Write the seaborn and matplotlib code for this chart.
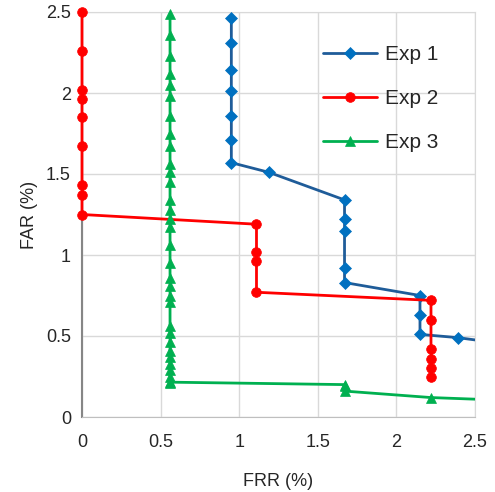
import matplotlib
matplotlib.use("Agg")
import matplotlib.pyplot as plt
from matplotlib.patches import Rectangle
import seaborn as sns
import pandas as pd

# Exp 1 (blue diamonds)
exp1_frr = [0.95, 0.95, 0.95, 0.95, 0.95, 0.95, 0.95, 1.19, 1.67, 1.67, 1.67, 1.67, 1.67, 2.15, 2.15, 2.15, 2.39, 2.70]
exp1_far = [2.46, 2.31, 2.14, 2.01, 1.86, 1.71, 1.57, 1.51, 1.34, 1.22, 1.15, 0.92, 0.83, 0.75, 0.63, 0.51, 0.49, 0.45]
# Exp 2 (red circles)
exp2_frr = [0.0, 0.0, 0.0, 0.0, 0.0, 0.0, 0.0, 0.0, 0.0, 1.11, 1.11, 1.11, 1.11, 2.22, 2.22, 2.22, 2.22, 2.22, 2.22]
exp2_far = [2.50, 2.26, 2.02, 1.96, 1.85, 1.67, 1.43, 1.37, 1.25, 1.19, 1.02, 0.96, 0.77, 0.72, 0.60, 0.42, 0.36, 0.30, 0.25]
# Exp 3 (green triangles)
exp3_frr = [0.56] * 32 + [1.67, 1.67, 1.67, 2.22, 2.78]
exp3_far = [2.49, 2.36, 2.23, 2.12, 2.05, 1.98, 1.86, 1.75, 1.67, 1.56, 1.51, 1.45,
            1.34, 1.28, 1.22, 1.17, 1.06, 0.95, 0.86, 0.81, 0.75, 0.71, 0.56, 0.52,
            0.46, 0.41, 0.37, 0.33, 0.29, 0.25, 0.21, 0.215,
            0.20, 0.19, 0.16, 0.12, 0.10]

series_names = ["Exp 1", "Exp 2", "Exp 3"]
x_ticks = [0, 0.5, 1, 1.5, 2, 2.5]
y_ticks = [0, 0.5, 1, 1.5, 2, 2.5]

sns.set_style("white")
plt.rcParams['font.family'] = ['Liberation Sans', 'DejaVu Sans']

fig = plt.figure(figsize=(4.95, 4.92), dpi=100)
ax = fig.add_axes([82/495, 75/492, 393/495, 405/492])

styles = [
    dict(line="#1F5C99", mk="#0070C0", marker="D", ms=6.5),
    dict(line="#FF0000", mk="#FF0000", marker="o", ms=7),
    dict(line="#00B050", mk="#00B050", marker="^", ms=7.5),
]
data = [(exp1_frr, exp1_far), (exp2_frr, exp2_far), (exp3_frr, exp3_far)]

for name, (xs, ys), st in zip(series_names, data, styles):
    df = pd.DataFrame({"FRR": xs, "FAR": ys})
    sns.lineplot(data=df, x="FRR", y="FAR", sort=False, estimator=None, ax=ax,
                 color=st["line"], linewidth=2, marker=st["marker"], markersize=st["ms"],
                 markerfacecolor=st["mk"], markeredgecolor=st["mk"], markeredgewidth=0.5,
                 label=name, zorder=3)

clip_rect = Rectangle((-0.05, -0.05), 1.05, 1.1, transform=ax.transAxes,
                      facecolor="none", edgecolor="none")
ax.add_patch(clip_rect)
for ln in ax.get_lines():
    ln.set_clip_path(clip_rect)

ax.set_xlim(0, 2.5)
ax.set_ylim(0, 2.5)
ax.set_xticks(x_ticks)
ax.set_yticks(y_ticks)
ax.set_xticklabels([f"{t:g}" for t in x_ticks], fontsize=13)
ax.set_yticklabels([f"{t:g}" for t in y_ticks], fontsize=13)
ax.grid(True, color="#D9D9D9", linewidth=1)
ax.set_axisbelow(True)
for s in ["top", "right"]:
    ax.spines[s].set_color("#D9D9D9")
ax.spines["left"].set_color("#868686")
ax.spines["left"].set_linewidth(1.5)
ax.spines["bottom"].set_color("#BFBFBF")
ax.tick_params(axis="both", length=3, color="#868686")
ax.tick_params(axis="y", pad=5)
ax.tick_params(axis="x", pad=9)
ax.set_xlabel("FRR (%)", fontsize=13, labelpad=16)
ax.set_ylabel("FAR (%)", fontsize=13, labelpad=6)

leg = ax.legend(loc="upper left", bbox_to_anchor=(0.613, 0.918), frameon=False, fontsize=15,
                handlelength=2.6, labelspacing=1.2, borderaxespad=0, borderpad=0,
                handletextpad=0.4)

fig.savefig("out.png", dpi=100)
